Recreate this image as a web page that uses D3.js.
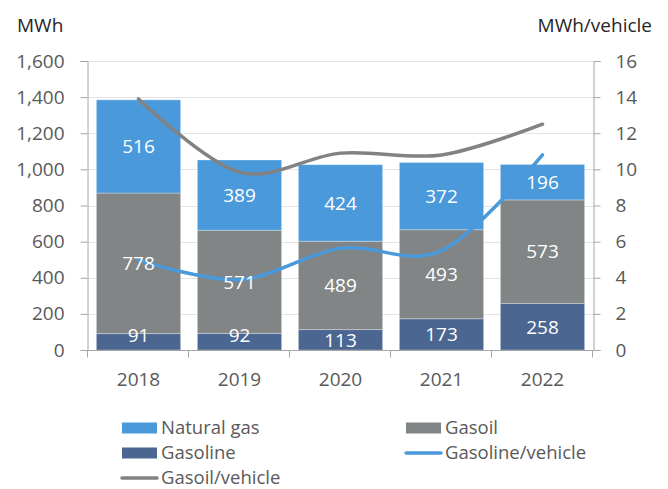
<!DOCTYPE html>
<html>
<head>
<meta charset="utf-8">
<script src="https://cdn.jsdelivr.net/npm/d3@7"></script>
<style>
  body { margin: 0; background: #fff; }
  text { font-family: "Open Sans", sans-serif; }
</style>
</head>
<body>
<div class="chart"></div>
<script>
var years = ["2018", "2019", "2020", "2021", "2022"];
var gasoline = [91, 92, 113, 173, 258];
var gasoil = [778, 571, 489, 493, 573];
var naturalGas = [516, 389, 424, 372, 196];
var gasolinePerVehicle = [4.98, 3.9, 5.63, 5.5, 10.8];
var gasoilPerVehicle = [13.9, 9.85, 10.9, 10.8, 12.5];
var leftTicks = [0, 200, 400, 600, 800, 1000, 1200, 1400, 1600];
var rightTicks = [0, 2, 4, 6, 8, 10, 12, 14, 16];

var svgWidth = 668;
var svgHeight = 489;
var margin = { top: 61, right: 75, bottom: 139, left: 88 };
var width = svgWidth - margin.left - margin.right;
var height = svgHeight - margin.top - margin.bottom;

var textColor = "#595959";
var axisColor = "#a6a6a6";

var svg = d3.select(".chart")
    .append("svg")
    .attr("width", svgWidth)
    .attr("height", svgHeight);

var chart = svg.append("g")
    .attr("transform", "translate(" + margin.left + "," + margin.top + ")");

var x = d3.scaleBand()
    .domain(years)
    .range([0, width])
    .paddingInner(0.166)
    .paddingOuter(0.083);

var yLeft = d3.scaleLinear().domain([0, 1600]).range([height, 0]);
var yRight = d3.scaleLinear().domain([0, 16]).range([height, 0]);

// gridlines
chart.append("g")
    .selectAll("line")
    .data(leftTicks.slice(1))
    .enter()
    .append("line")
    .attr("x1", 0)
    .attr("x2", width)
    .attr("y1", function(d) { return Math.round(yLeft(d)) + 0.5; })
    .attr("y2", function(d) { return Math.round(yLeft(d)) + 0.5; })
    .attr("stroke", "#e4e4e4")
    .attr("stroke-width", 1);

// stacked bars
var series = [
    { key: "Gasoline", values: gasoline, color: "#4a6691" },
    { key: "Gasoil", values: gasoil, color: "#818586" },
    { key: "Natural gas", values: naturalGas, color: "#4a99db" }
];

var stackRows = years.map(function(y, i) {
    var row = { year: y };
    series.forEach(function(s) { row[s.key] = s.values[i]; });
    return row;
});
var stacked = d3.stack().keys(series.map(function(s) { return s.key; }))(stackRows);

var layers = chart.selectAll(".layer")
    .data(stacked)
    .enter()
    .append("g")
    .attr("fill", function(d, i) { return series[i].color; });

layers.selectAll("rect")
    .data(function(d) { return d; })
    .enter()
    .append("rect")
    .attr("x", function(d) { return x(d.data.year); })
    .attr("width", x.bandwidth())
    .attr("y", function(d) { return yLeft(d[1]); })
    .attr("height", function(d) { return yLeft(d[0]) - yLeft(d[1]); })
    .attr("stroke", "#ffffff")
    .attr("stroke-opacity", 0.3)
    .attr("stroke-width", 1);

// axes
var leftAxis = d3.axisLeft(yLeft)
    .tickValues(leftTicks)
    .tickSize(7)
    .tickPadding(16)
    .tickFormat(d3.format(",.0f"));
var rightAxis = d3.axisRight(yRight)
    .tickValues(rightTicks)
    .tickSize(7)
    .tickPadding(15);

var gl = chart.append("g").attr("transform", "translate(-0.5,0)").call(leftAxis);
var gr = chart.append("g").attr("transform", "translate(" + (width + 0.5) + ",0)").call(rightAxis);

// x axis line and category ticks
var gx = chart.append("g").attr("transform", "translate(0," + (height + 0.5) + ")");
gx.append("line")
    .attr("x1", -0.5).attr("x2", width + 0.5)
    .attr("stroke", axisColor);
gx.selectAll(".cat-tick")
    .data(d3.range(years.length + 1))
    .enter()
    .append("line")
    .attr("x1", function(i) { return Math.round(i * x.step()) - 0.5; })
    .attr("x2", function(i) { return Math.round(i * x.step()) - 0.5; })
    .attr("y1", 0)
    .attr("y2", 7)
    .attr("stroke", axisColor);
gx.selectAll(".year")
    .data(years)
    .enter()
    .append("text")
    .attr("x", function(d) { return x(d) + x.bandwidth() / 2; })
    .attr("y", 35)
    .attr("text-anchor", "middle")
    .attr("fill", textColor)
    .style("font-size", "19px")
    .text(function(d) { return d; });

[gl, gr].forEach(function(g) {
    g.select(".domain").attr("stroke", axisColor);
    g.selectAll(".tick line").attr("stroke", axisColor);
    g.selectAll(".tick text")
        .attr("fill", textColor)
        .style("font-size", "19px")
        .style("font-family", "'Open Sans', sans-serif");
});

// lines
var line = function(vals) {
    return d3.line()
        .x(function(d, i) { return x(years[i]) + x.bandwidth() / 2; })
        .y(function(d) { return yRight(d); })
        .curve(d3.curveCatmullRom.alpha(0))(vals);
};

chart.append("path")
    .attr("d", line(gasoilPerVehicle))
    .attr("fill", "none")
    .attr("stroke", "#828282")
    .attr("stroke-width", 3.5)
    .attr("stroke-linecap", "round");

chart.append("path")
    .attr("d", line(gasolinePerVehicle))
    .attr("fill", "none")
    .attr("stroke", "#4a99db")
    .attr("stroke-width", 3.5)
    .attr("stroke-linecap", "round");

// data labels on top of everything
var labelData = [];
stacked.forEach(function(layer) {
    layer.forEach(function(d) { labelData.push(d); });
});
chart.append("g")
    .selectAll("text")
    .data(labelData)
    .enter()
    .append("text")
    .attr("x", function(d) { return x(d.data.year) + x.bandwidth() / 2; })
    .attr("y", function(d) {
        var top = yLeft(d[1]), bottom = yLeft(d[0]);
        var mid = (top + bottom) / 2;
        if (bottom - top < 18) mid = bottom - 15;
        return mid;
    })
    .attr("dy", "0.36em")
    .attr("text-anchor", "middle")
    .attr("fill", "#ffffff")
    .style("font-size", "19px")
    .text(function(d) { return d[1] - d[0]; });

// axis titles
svg.append("text")
    .attr("x", 17).attr("y", 32)
    .attr("fill", "#262626")
    .style("font-size", "19px")
    .text("MWh");
svg.append("text")
    .attr("x", 652).attr("y", 32)
    .attr("text-anchor", "end")
    .attr("fill", "#262626")
    .style("font-size", "19px")
    .text("MWh/vehicle");

// legend
var legendItems = [
    { label: "Natural gas", color: "#4a99db", type: "rect", col: 0, row: 0 },
    { label: "Gasoil", color: "#818586", type: "rect", col: 1, row: 0 },
    { label: "Gasoline", color: "#4a6691", type: "rect", col: 0, row: 1 },
    { label: "Gasoline/vehicle", color: "#4a99db", type: "line", col: 1, row: 1 },
    { label: "Gasoil/vehicle", color: "#828282", type: "line", col: 0, row: 2 }
];
var legend = svg.append("g");
var lg = legend.selectAll("g")
    .data(legendItems)
    .enter()
    .append("g")
    .attr("transform", function(d) {
        return "translate(" + (d.col === 0 ? 122 : 406) + "," + (428 + d.row * 25) + ")";
    });
lg.filter(function(d) { return d.type === "rect"; })
    .append("rect")
    .attr("x", 0).attr("y", -5.5)
    .attr("width", 35).attr("height", 11)
    .attr("fill", function(d) { return d.color; });
lg.filter(function(d) { return d.type === "line"; })
    .append("line")
    .attr("x1", 0).attr("x2", 35)
    .attr("stroke", function(d) { return d.color; })
    .attr("stroke-width", 3.5)
    .attr("stroke-linecap", "round");
lg.append("text")
    .attr("x", 39)
    .attr("dy", "0.35em")
    .attr("fill", textColor)
    .style("font-size", "18.5px")
    .text(function(d) { return d.label; });
</script>
</body>
</html>
